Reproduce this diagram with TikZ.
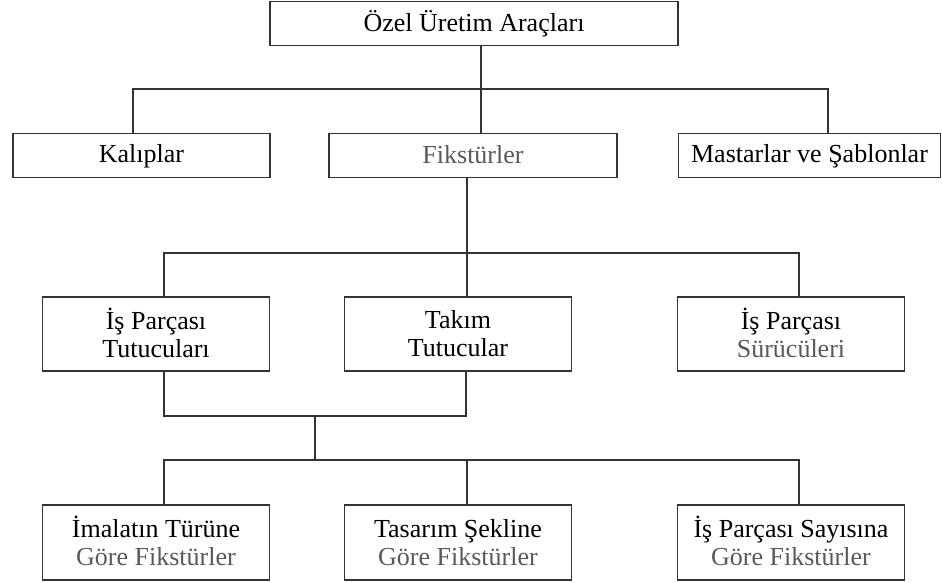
\documentclass[tikz,border=0pt]{standalone}
\usepackage{fontspec}
\setmainfont{Liberation Serif}
\newcommand{\lstrut}{\rule[-3pt]{0pt}{23pt}}
\begin{document}
\begin{tikzpicture}[
  x=1pt, y=-1pt,
  box/.style={draw=black!80, line width=1.1pt, align=center, inner sep=0pt,
    font=\fontsize{26}{28}\selectfont},
  wide/.style={box, minimum height=44pt},
  tall/.style={box, minimum width=227pt, minimum height=74pt},
  link/.style={draw=black!80, line width=1.1pt}
]
\useasboundingbox (0,0) rectangle (942,583);
% top level
\node[wide, minimum width=408pt] (ozel) at (474,23.5) {\lstrut Özel Üretim Araçları};
\node[wide, minimum width=257pt] (kalip) at (141.5,155.5) {\lstrut Kalıplar};
\node[wide, minimum width=288pt] (fikstur) at (473,155.5) {\lstrut\color{black!65}Fikstürler};
\node[wide, minimum width=262pt] (mastar) at (809.5,155.5) {\lstrut Mastarlar ve Şablonlar};
% fixture groups
\node[tall] (isTut) at (156,334) {\lstrut İş Parçası\\\lstrut Tutucuları};
\node[tall] (takim) at (458,334) {\lstrut Takım\\\lstrut Tutucular};
\node[tall] (isSur) at (791,334) {\lstrut İş Parçası\\\lstrut{\color{black!65}Sürücüleri}};
% fixture types
\node[tall, minimum height=75pt] (imalat) at (156,542.5) {\lstrut İmalatın Türüne\\\lstrut{\color{black!65}Göre Fikstürler}};
\node[tall, minimum height=75pt] (tasarim) at (458,542.5) {\lstrut Tasarım Şekline\\\lstrut{\color{black!65}Göre Fikstürler}};
\node[tall, minimum height=75pt] (sayi) at (791,542.5) {\lstrut İş Parçası Sayısına\\\lstrut{\color{black!65}Göre Fikstürler}};
% bus points
\coordinate (busA) at (481,89);
\coordinate (busB) at (467,253);
\coordinate (busC) at (315,416);
\coordinate (busD) at (315,460);
\coordinate (busE) at (467,460);
% connectors
\draw[link] (ozel.south -| busA) -- (fikstur.north -| busA);
\draw[link] (kalip.north -| 133,0) |- (busA) -| (mastar.north -| 828,0);
\draw[link] (fikstur.south -| busB) -- (takim.north -| busB);
\draw[link] (isTut.north -| 164,0) |- (busB) -| (isSur.north -| 799,0);
\draw[link] (isTut.south -| 164,0) |- (busC) -| (takim.south -| 466,0);
\draw[link] (busC) -- (busD);
\draw[link] (imalat.north -| 164,0) |- (busD) -| (sayi.north -| 799,0);
\draw[link] (busE) -- (tasarim.north -| busE);
\end{tikzpicture}
\end{document}
